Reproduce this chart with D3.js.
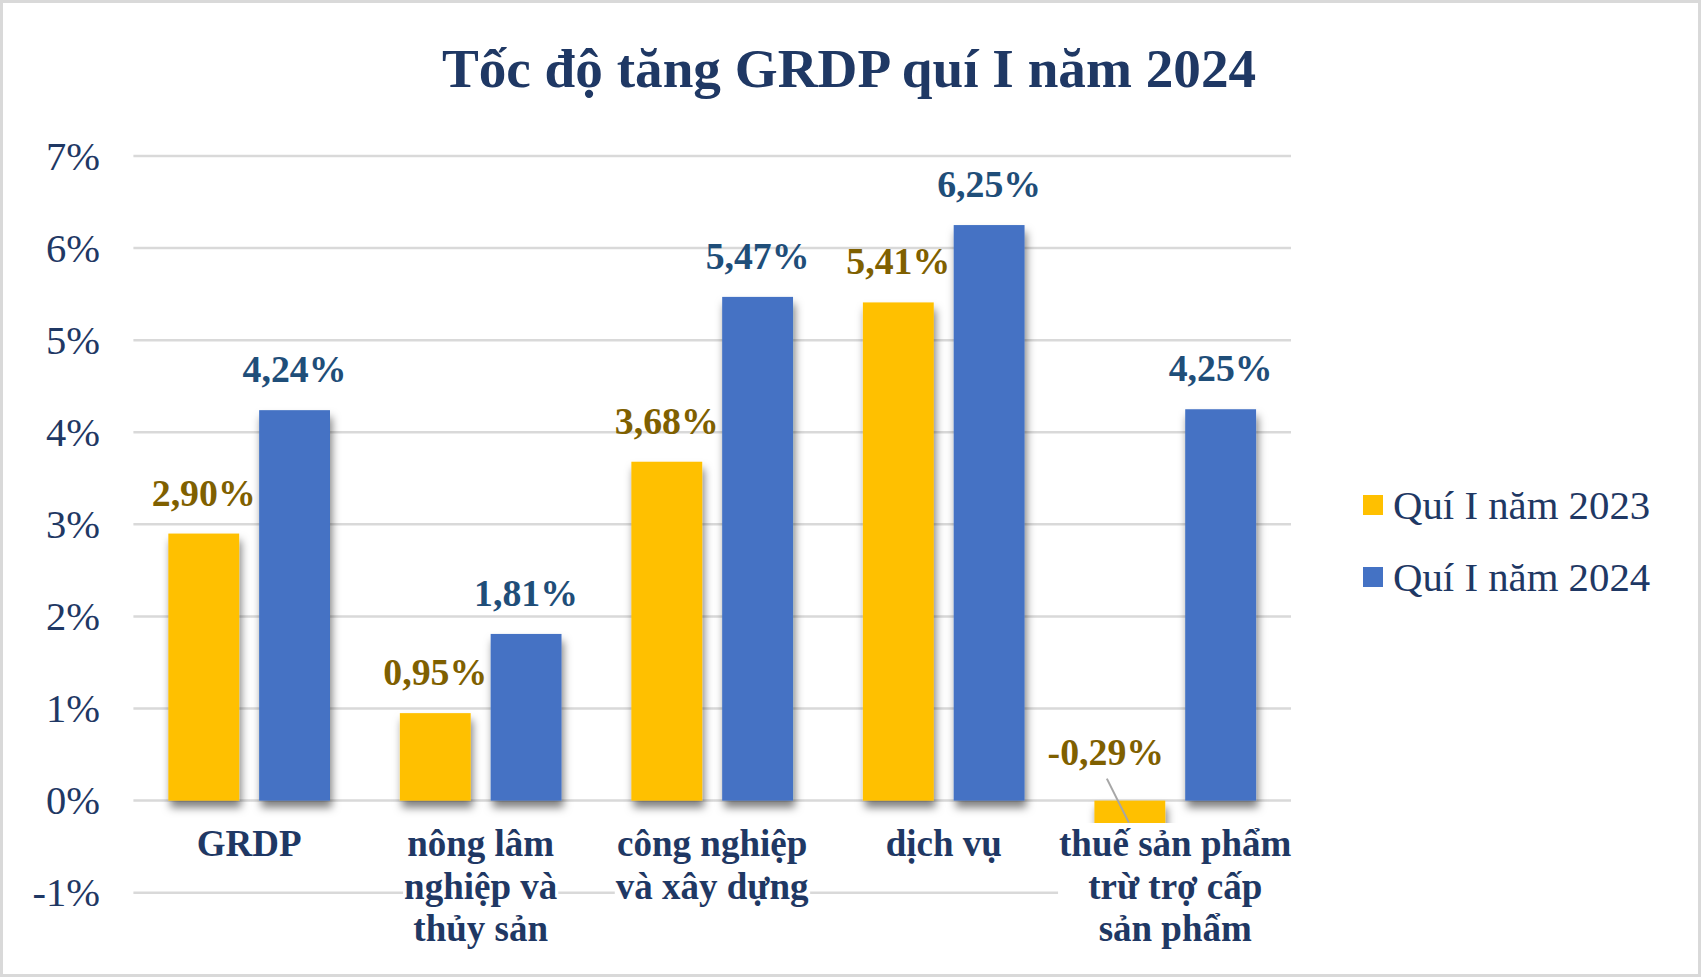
<!DOCTYPE html>
<html>
<head>
<meta charset="utf-8">
<script src="https://cdn.jsdelivr.net/npm/d3@7"></script>
<style>
  html, body { margin: 0; padding: 0; background: #fff; }
  svg { display: block; }
</style>
</head>
<body>
<svg id="chart" width="1701" height="977"></svg>
<script>
const title = "Tốc độ tăng GRDP quí I năm 2024";
const categories = ["GRDP", "nông lâm nghiệp và thủy sản", "công nghiệp và xây dựng", "dịch vụ", "thuế sản phẩm trừ trợ cấp sản phẩm"];
const categoryLines = [["GRDP"], ["nông lâm", "nghiệp và", "thủy sản"], ["công nghiệp", "và xây dựng"], ["dịch vụ"], ["thuế sản phẩm", "trừ trợ cấp", "sản phẩm"]];
const seriesNames = ["Quí I năm 2023", "Quí I năm 2024"];
const values2023 = [2.90, 0.95, 3.68, 5.41, -0.29];
const values2024 = [4.24, 1.81, 5.47, 6.25, 4.25];
const yTicks = [-1, 0, 1, 2, 3, 4, 5, 6, 7];

const colors = ["#FFC000", "#4472C4"];
const labelColors = ["#7F6000", "#1F4E79"];
const navy = "#1F3864";
const font = "'Liberation Serif', 'Times New Roman', serif";

const svg = d3.select("#chart");
const W = 1701, H = 977;

// background + border
svg.append("rect").attr("x", 1.5).attr("y", 1.5).attr("width", W - 3).attr("height", H - 3)
  .attr("fill", "#fff").attr("stroke", "#D9D9D9").attr("stroke-width", 3);

// shadow filter
const defs = svg.append("defs");
const f = defs.append("filter").attr("id", "shadow").attr("x", "-20%").attr("y", "-20%").attr("width", "140%").attr("height", "140%");
f.append("feDropShadow").attr("dx", 2).attr("dy", 7).attr("stdDeviation", 4.5)
  .attr("flood-color", "#000").attr("flood-opacity", 0.5);

const plot = { left: 133.4, right: 1291, top: 156, bottom: 892.7 };

const x0 = d3.scaleBand().domain(categories).range([plot.left, plot.right]).paddingInner(0).paddingOuter(0);
const x1 = d3.scaleBand().domain(seriesNames).range([0, x0.bandwidth()]).paddingInner(20 / 91).paddingOuter(35 / 91);
const y = d3.scaleLinear().domain([-1, 7]).range([plot.bottom, plot.top]);

// title
svg.append("text").attr("x", 849).attr("y", 87).attr("text-anchor", "middle")
  .attr("font-family", font).attr("font-weight", "bold").attr("font-size", 55.2)
  .attr("fill", navy).text(title);

// gridlines
svg.append("g").selectAll("line").data(yTicks).join("line")
  .attr("x1", plot.left).attr("x2", plot.right)
  .attr("y1", d => y(d)).attr("y2", d => y(d))
  .attr("stroke", "#D9D9D9").attr("stroke-width", 2.5);

// y axis labels
svg.append("g").selectAll("text").data(yTicks).join("text")
  .attr("x", 100).attr("y", d => y(d)).attr("text-anchor", "end").attr("dominant-baseline", "central")
  .attr("font-family", font).attr("font-size", 40.5).attr("fill", navy)
  .text(d => d + "%");

// data
const data = categories.map((c, i) => ({ cat: c, vals: [values2023[i], values2024[i]] }));
const flat = [];
data.forEach((d, ci) => d.vals.forEach((v, si) => flat.push({ cat: d.cat, ci, si, v })));

// bars
svg.append("g").selectAll("rect").data(flat).join("rect")
  .attr("x", d => x0(d.cat) + x1(seriesNames[d.si]))
  .attr("width", x1.bandwidth())
  .attr("y", d => y(Math.max(0, d.v)))
  .attr("height", d => Math.abs(y(d.v) - y(0)))
  .attr("fill", d => colors[d.si])
  .attr("filter", "url(#shadow)");

// category labels with white background blocks
const lineH = 42.5;
const catG = svg.append("g");
categories.forEach((c, i) => {
  const cx = x0(c) + x0.bandwidth() / 2;
  const g = catG.append("g");
  const bg = g.append("rect").attr("fill", "#fff");
  const t = g.append("text").attr("text-anchor", "middle")
    .attr("font-family", font).attr("font-weight", "bold").attr("font-size", 37).attr("fill", navy);
  categoryLines[i].forEach((ln, k) => {
    t.append("tspan").attr("x", cx).attr("y", 856 + k * lineH).text(ln);
  });
  const bb = t.node().getBBox();
  bg.attr("x", bb.x - 1).attr("y", 823).attr("width", bb.width + 2).attr("height", bb.y + bb.height - 823 + 2);
});

// data labels
const dl = svg.append("g");
flat.forEach(d => {
  const cx = x0(d.cat) + x1(seriesNames[d.si]) + x1.bandwidth() / 2;
  const str = d.v.toFixed(2).replace(".", ",") + "%";
  if (d.v >= 0) {
    dl.append("text").attr("x", cx).attr("y", y(d.v) - 28).attr("text-anchor", "middle")
      .attr("font-family", font).attr("font-weight", "bold").attr("font-size", 37.8)
      .attr("fill", labelColors[d.si]).text(str);
  } else {
    // label moved above the zero line with a leader line
    const lx = cx - 24, ly = y(0) - 36;
    dl.append("line").attr("x1", lx + 1).attr("y1", ly + 14).attr("x2", cx - 1).attr("y2", y(0) + 22)
      .attr("stroke", "#A6A6A6").attr("stroke-width", 2);
    dl.append("text").attr("x", lx).attr("y", ly).attr("text-anchor", "middle")
      .attr("font-family", font).attr("font-weight", "bold").attr("font-size", 37.8)
      .attr("fill", labelColors[d.si]).text(str);
  }
});

// legend
const lg = svg.append("g");
seriesNames.forEach((s, i) => {
  const cy = 505 + i * 72;
  lg.append("rect").attr("x", 1363).attr("y", cy - 10).attr("width", 20).attr("height", 20).attr("fill", colors[i]);
  lg.append("text").attr("x", 1393).attr("y", cy).attr("dominant-baseline", "central")
    .attr("font-family", font).attr("font-size", 40.8).attr("fill", navy).text(s);
});
</script>
</body>
</html>
